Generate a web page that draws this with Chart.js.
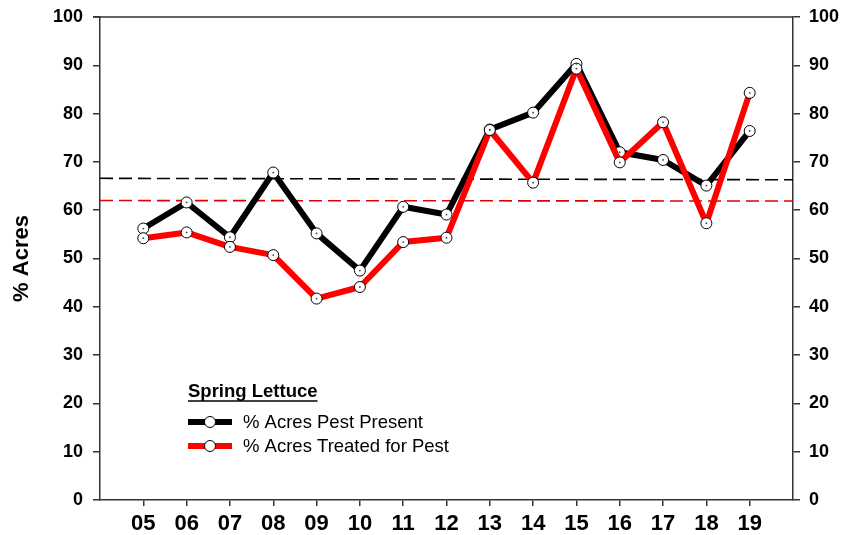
<!DOCTYPE html>
<html>
<head>
<meta charset="utf-8">
<script src="https://cdn.jsdelivr.net/npm/chart.js@4"></script>
<style>
  body { margin: 0; background: #fff; }
  #wrap { width: 842px; height: 535px; }
</style>
</head>
<body>
<div id="wrap"><canvas id="lettuceChart" width="842" height="535"></canvas></div>
<script>
const years = ['05', '06', '07', '08', '09', '10', '11', '12', '13', '14', '15', '16', '17', '18', '19'];
const pestPresent = [56.2, 61.6, 54.4, 67.8, 55.2, 47.5, 60.7, 59.1, 76.7, 80.2, 90.3, 72.0, 70.4, 65.1, 76.4];
const treatedForPest = [54.2, 55.4, 52.4, 50.7, 41.7, 44.1, 53.4, 54.3, 76.6, 65.7, 89.3, 69.9, 78.2, 57.3, 84.3];
// dashed reference lines, read at the left and right edge of the plot
const presentAvgEnds = [66.6, 66.3];
const treatedAvgEnds = [62.0, 61.9];
const xRange = [4, 20];
const yTicks = [0, 10, 20, 30, 40, 50, 60, 70, 80, 90, 100];

const legendTitle = 'Spring Lettuce';
const seriesNames = ['% Acres Pest Present', '% Acres Treated for Pest'];

const FONT = "'Liberation Sans', Arial, sans-serif";
const AXIS = '#333';

const toPoints = vals => vals.map((v, i) => ({ x: Number(years[i]), y: v }));
const toEnds = ends => [{ x: xRange[0], y: ends[0] }, { x: xRange[1], y: ends[1] }];

// top frame line, point centre dots, inset legend
const framePlugin = {
    id: 'frame',
    afterDatasetsDraw(chart) {
        const { ctx } = chart;
        chart.data.datasets.forEach((ds, i) => {
            if (!ds.centerDot) return;
            chart.getDatasetMeta(i).data.forEach(pt => {
                ctx.beginPath();
                ctx.arc(pt.x, pt.y, 0.9, 0, Math.PI * 2);
                ctx.fillStyle = '#444';
                ctx.fill();
            });
        });
    },
    afterDraw(chart) {
        const { ctx, chartArea: a } = chart;
        ctx.save();
        ctx.strokeStyle = AXIS;
        ctx.lineWidth = 1.5;
        ctx.beginPath();
        ctx.moveTo(a.left - 7, a.top);
        ctx.lineTo(a.right, a.top);
        ctx.stroke();

        // legend
        const lx = 188;
        ctx.fillStyle = '#000';
        ctx.font = `bold 18.5px ${FONT}`;
        ctx.textBaseline = 'alphabetic';
        ctx.textAlign = 'left';
        ctx.fillText(legendTitle, lx, 397);
        const tw = ctx.measureText(legendTitle).width;
        ctx.strokeStyle = '#000';
        ctx.lineWidth = 1.5;
        ctx.beginPath();
        ctx.moveTo(lx, 401);
        ctx.lineTo(lx + tw, 401);
        ctx.stroke();

        const colors = ['#000000', '#ff0000'];
        [422, 446].forEach((y, i) => {
            ctx.strokeStyle = colors[i];
            ctx.lineWidth = 6;
            ctx.lineCap = 'butt';
            ctx.beginPath();
            ctx.moveTo(lx, y);
            ctx.lineTo(lx + 44, y);
            ctx.stroke();
            ctx.beginPath();
            ctx.arc(lx + 22, y, 5.5, 0, Math.PI * 2);
            ctx.fillStyle = '#fff';
            ctx.fill();
            ctx.lineWidth = 1;
            ctx.strokeStyle = '#000';
            ctx.stroke();
            ctx.fillStyle = '#000';
            ctx.font = `18.5px ${FONT}`;
            ctx.textBaseline = 'middle';
            ctx.fillText(seriesNames[i], lx + 55, y + 1);
        });
        ctx.restore();
    }
};

function yAxis(position, width) {
    return {
        type: 'linear',
        position,
        min: 0,
        max: 100,
        afterBuildTicks: scale => { scale.ticks = yTicks.map(v => ({ value: v })); },
        afterFit: scale => {
            scale.width = width;
            scale.paddingTop = 0;
            scale.paddingBottom = 0;
        },
        border: { display: true, color: AXIS, width: 1.5 },
        grid: { drawOnChartArea: false, drawTicks: true, tickLength: 7, color: AXIS, lineWidth: 1.5 },
        ticks: { color: '#000', padding: position === 'left' ? 10 : 9, font: { family: FONT, size: 18, weight: 'bold' } }
    };
}

document.addEventListener('DOMContentLoaded', () => {
    const ctx = document.getElementById('lettuceChart').getContext('2d');
    const y = yAxis('left', 100);
    y.title = { display: true, text: '% Acres', color: '#000', padding: { top: 9, bottom: 4 }, font: { family: FONT, size: 22, weight: 'bold' } };

    const pointStyle = {
        borderWidth: 6,
        pointRadius: 5.5,
        pointBorderWidth: 1,
        pointBorderColor: '#000',
        pointBackgroundColor: '#fff',
        borderJoinStyle: 'round',
        centerDot: true
    };

    new Chart(ctx, {
        type: 'line',
        data: {
            datasets: [
                Object.assign({ label: seriesNames[1], data: toPoints(treatedForPest), borderColor: '#ff0000', order: 0 }, pointStyle),
                Object.assign({ label: seriesNames[0], data: toPoints(pestPresent), borderColor: '#000000', order: 1 }, pointStyle),
                {
                    label: 'present avg',
                    data: toEnds(presentAvgEnds),
                    borderColor: '#000',
                    borderWidth: 1.6,
                    borderDash: [13, 6],
                    pointRadius: 0,
                    order: 2
                },
                {
                    label: 'treated avg',
                    data: toEnds(treatedAvgEnds),
                    borderColor: '#e00000',
                    borderWidth: 1.6,
                    borderDash: [13, 6],
                    pointRadius: 0,
                    order: 3
                }
            ]
        },
        options: {
            responsive: false,
            animation: false,
            layout: { padding: { top: 17, left: 0, right: 0, bottom: 0 } },
            plugins: { legend: { display: false }, tooltip: { enabled: false } },
            scales: {
                x: {
                    type: 'linear',
                    min: xRange[0],
                    max: xRange[1],
                    afterBuildTicks: scale => { scale.ticks = years.map(v => ({ value: Number(v) })); },
                    afterFit: scale => {
                        scale.height = 35;
                        scale.paddingLeft = 0;
                        scale.paddingRight = 0;
                    },
                    border: { display: true, color: AXIS, width: 1.5 },
                    grid: { drawOnChartArea: false, drawTicks: true, tickLength: 6, color: AXIS, lineWidth: 1.5 },
                    ticks: {
                        color: '#000',
                        padding: 5,
                        maxRotation: 0,
                        autoSkip: false,
                        font: { family: FONT, size: 22, weight: 'bold' },
                        callback: v => String(v).padStart(2, '0')
                    }
                },
                y,
                y2: yAxis('right', 49)
            }
        },
        plugins: [framePlugin]
    });
});
</script>
</body>
</html>
